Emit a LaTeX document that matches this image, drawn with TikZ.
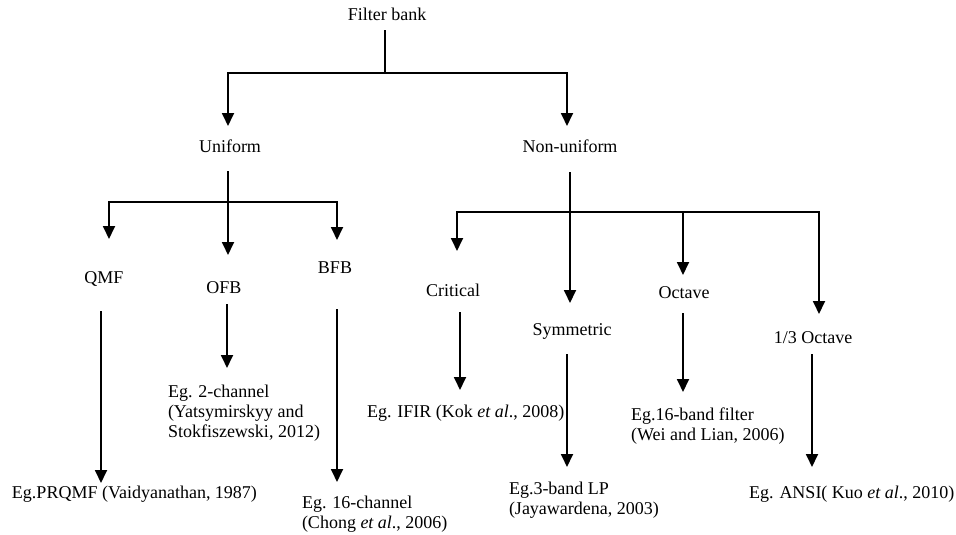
\documentclass[tikz,border=0pt]{standalone}
\usepackage{fontspec}
\setmainfont{Liberation Serif}
\usetikzlibrary{arrows.meta}
\begin{document}
\begin{tikzpicture}[x=1pt,y=-1pt,
  every node/.style={font=\fontsize{18}{20}\selectfont},
  lbl/.style={inner sep=0pt, outer sep=0pt, text height=13pt, text depth=4pt, anchor=base},
  lft/.style={inner sep=0pt, outer sep=0pt, text height=13pt, text depth=4pt, anchor=base west},
  multi/.style={inner sep=0pt, outer sep=0pt, align=left, anchor=north west},
  conn/.style={line width=1.8pt, line cap=rect},
  arr/.style={conn, -{Triangle[width=12pt,length=13pt]}}]
\useasboundingbox (0,0) rectangle (956,535);

% level 0/1
\node[lbl] (fb)  at (387,21)  {Filter bank};
\node[lbl] (uni) at (230,152) {Uniform};
\node[lbl] (non) at (570,152) {Non-uniform};

% level 2
\node[lbl] (qmf)   at (104,283) {QMF};
\node[lbl] (ofb)   at (224,293) {OFB};
\node[lbl] (bfb)   at (335,273) {BFB};
\node[lbl] (crit)  at (453,296) {Critical};
\node[lbl] (sym)   at (572,335) {Symmetric};
\node[lbl] (oct)   at (684,298) {Octave};
\node[lbl] (third) at (813,343) {1/3 Octave};

% leaves
\node[lft] (prqmf) at (12,498)  {Eg.PRQMF (Vaidyanathan, 1987)};
\node[multi] (twoch) at (168,384.7) {Eg. 2-channel\\(Yatsymirskyy and\\Stokfiszewski, 2012)};
\node[multi] (sixch) at (302,495.7) {Eg. 16-channel\\(Chong \textit{et al}., 2006)};
\node[lft] (ifir)  at (367,417) {Eg. IFIR (Kok \textit{et al}., 2008)};
\node[multi] (threeb) at (509,481.7) {Eg.3-band LP\\(Jayawardena, 2003)};
\node[multi] (sixb) at (631,407.7) {Eg.16-band filter\\(Wei and Lian, 2006)};
\node[lft] (ansi)  at (749,498) {Eg. ANSI( Kuo \textit{et al}., 2010)};

% junction coordinates
\coordinate (r0) at (385,73);
\coordinate (rl) at (228,73);
\coordinate (rr) at (567,73);
\coordinate (ul) at (109,202);
\coordinate (ur) at (337,202);
\coordinate (nl) at (457,212);
\coordinate (no) at (683,212);
\coordinate (nr) at (819,212);

% root
\draw[conn] ([xshift=-2pt,yshift=-6pt]fb.south) -- (r0);
\draw[conn] (rl) -- (rr);
\draw[arr, shorten >=13pt] (rl) -- (rl |- uni.north);
\draw[arr, shorten >=13pt] (rr) -- (rr |- non.north);

% uniform
\draw[arr, shorten >=25pt] ([xshift=-2pt,yshift=-16pt]uni.south) -- ([xshift=-2pt]uni.south |- ofb.north);
\draw[conn] (ul) -- (ur);
\draw[arr, shorten >=31pt] (ul) -- (ul |- qmf.north);
\draw[arr, shorten >=20pt] (ur) -- (ur |- bfb.north);

% non-uniform
\draw[arr, shorten >=19pt] ([yshift=-17pt]non.south) -- (non.south |- sym.north);
\draw[conn] (nl) -- (nr);
\draw[arr, shorten >=32pt] (nl) -- (nl |- crit.north);
\draw[arr, shorten >=10pt] (no) -- (no |- oct.north);
\draw[arr, shorten >=16pt] (nr) -- (nr |- third.north);

% leaves
\draw[arr, shorten >=2pt]    ([xshift=-3pt,yshift=-25pt]qmf.south) -- ([xshift=-3pt]qmf.south |- prqmf.north);
\draw[arr, shorten >=16.7pt] ([xshift=3pt,yshift=-8pt]ofb.south) -- ([xshift=3pt]ofb.south |- twoch.north);
\draw[arr, shorten >=13.7pt] ([xshift=2pt,yshift=-33pt]bfb.south) -- ([xshift=2pt]bfb.south |- sixch.north);
\draw[arr, shorten >=14pt]   ([xshift=7pt,yshift=-13pt]crit.south) -- ([xshift=7pt]crit.south |- ifir.north);
\draw[arr, shorten >=14.7pt] ([xshift=-5pt,yshift=-16pt]sym.south) -- ([xshift=-5pt]sym.south |- threeb.north);
\draw[arr, shorten >=15.7pt] ([xshift=-1pt,yshift=-12pt]oct.south) -- ([xshift=-1pt]oct.south |- sixb.north);
\draw[arr, shorten >=18pt]   ([xshift=-1pt,yshift=-8pt]third.south) -- ([xshift=-1pt]third.south |- ansi.north);
\end{tikzpicture}
\end{document}
